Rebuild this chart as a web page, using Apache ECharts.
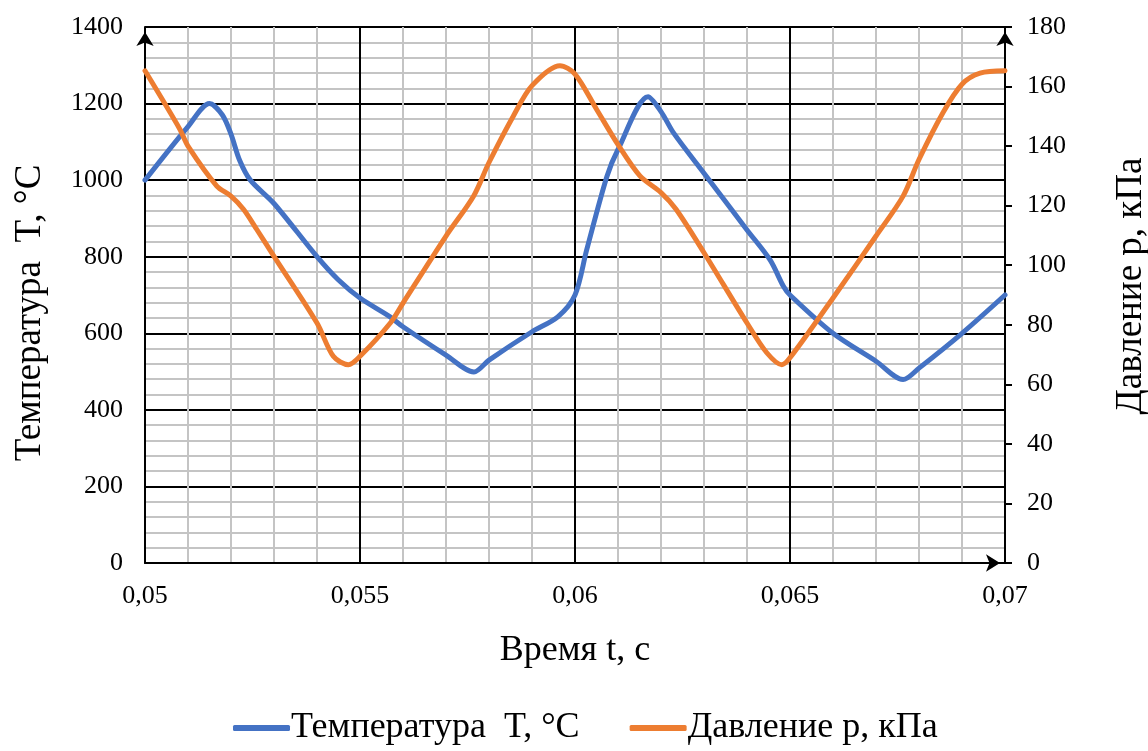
<!DOCTYPE html>
<html>
<head>
<meta charset="utf-8">
<script src="https://cdn.jsdelivr.net/npm/echarts@6/dist/echarts.min.js"></script>
<style>
html,body{margin:0;padding:0;background:#fff;}
#chart{width:1148px;height:751px;}
</style>
</head>
<body>
<div id="chart"></div>
<script>
// Temperature series (time s, T °C)
var tempTime = [0.0500,0.0510,0.0515,0.0518,0.0520,0.0522,0.05245,0.0530,0.0540,0.0545,0.0550,0.0557,0.0560,0.0570,0.05765,0.0580,0.0590,0.0596,0.0600,0.06027,0.06074,0.0610,0.0617,0.0620,0.0623,0.0630,0.0640,0.06454,0.06485,0.0650,0.0660,0.0670,0.06763,0.0680,0.0690,0.0700];
var tempValue = [1000,1140,1200,1170,1120,1052,1000,939,800,739,692,643,617,543,499,530,604,643,700,817,1009,1080,1218,1179,1122,1018,870,791,722,700,600,527,479,509,600,700];
// Pressure series (time s, p kPa)
var presTime = [0.0500,0.05081,0.0510,0.05167,0.0520,0.05229,0.0526,0.0530,0.0540,0.05438,0.05473,0.0550,0.0557,0.0560,0.0570,0.05764,0.0580,0.05857,0.0590,0.05965,0.0600,0.0605,0.0610,0.06151,0.0620,0.06235,0.0630,0.0640,0.06446,0.06481,0.0650,0.0660,0.0670,0.06763,0.0680,0.06856,0.0690,0.06942,0.0700];
var presValue = [165.3,145.7,140,126.6,123.2,118.8,112,103,80.6,69.4,66.6,69.4,80.5,87.3,109.8,123.2,134.5,150.2,160.3,167,164.2,152.4,140.5,130,124.4,118.8,104.2,80.6,70.6,66.6,68.9,89,109.8,123.2,135.5,151.3,160.8,164.5,165.3];

var seriesNames = ['Температура  T, °C', 'Давление р, кПа'];
var axisNames = {x: 'Время t, с', yLeft: 'Температура  T, °C', yRight: 'Давление р, кПа'};

function pairs(a, b){ return a.map(function(v,i){ return [v, b[i]]; }); }

var FONT = 'Liberation Serif';
var chart = echarts.init(document.getElementById('chart'), null, {renderer:'canvas'});
var arrowLine = {
  show: true,
  lineStyle: {color:'#000', width:2},
  symbol: ['none','arrow'],
  symbolSize: [13, 14],
  symbolOffset: [0, -5]
};
var plain = function(v){ return String(v); };
chart.setOption({
  animation: false,
  backgroundColor: '#fff',
  grid: {left:145, right:143, top:27, bottom:188, containLabel:false, outerBoundsMode:'none'},
  legend: {
    bottom: 0, left: 228,
    itemWidth: 57, itemHeight: 6, itemGap: 50,
    icon: 'roundRect',
    textStyle: {fontFamily: FONT, fontSize: 36, color:'#000', padding:[0,0,0,-4]},
    data: seriesNames
  },
  xAxis: {
    type: 'value', min: 0.05, max: 0.07, interval: 0.005,
    name: axisNames.x, nameLocation: 'middle', nameGap: 70,
    nameTextStyle: {fontFamily: FONT, fontSize: 36, color:'#000'},
    axisLine: arrowLine,
    axisTick: {show:false},
    minorTick: {show:false, splitNumber:5},
    axisLabel: {fontFamily: FONT, fontSize: 26, color:'#000', margin: 20,
      formatter: function(v){ return String(+v.toFixed(4)).replace('.', ','); }},
    splitLine: {show:true, lineStyle:{color:'#000', width:2}},
    minorSplitLine: {show:true, lineStyle:{color:'#c4c4c4', width:2}}
  },
  yAxis: [{
    type: 'value', min: 0, max: 1400, interval: 200, position: 'left',
    name: axisNames.yLeft, nameLocation: 'middle', nameGap: 96, nameRotate: 90,
    nameTextStyle: {fontFamily: FONT, fontSize: 37, color:'#000', padding:[0,36,0,0]},
    axisLine: arrowLine,
    axisTick: {show:false},
    minorTick: {show:false, splitNumber:5},
    axisLabel: {fontFamily: FONT, fontSize: 26, color:'#000', margin: 22, formatter: plain},
    splitLine: {show:true, lineStyle:{color:'#000', width:2}},
    minorSplitLine: {show:true, lineStyle:{color:'#c4c4c4', width:2}}
  },{
    type: 'value', min: 0, max: 180, interval: 20, position: 'right',
    name: axisNames.yRight, nameLocation: 'middle', nameGap: 108, nameRotate: 90,
    nameTextStyle: {fontFamily: FONT, fontSize: 37, color:'#000', padding:[0,0,0,18]},
    axisLine: arrowLine,
    axisTick: {show:true, inside:false, length:7, lineStyle:{color:'#000', width:2}},
    axisLabel: {fontFamily: FONT, fontSize: 26, color:'#000', margin: 22, formatter: plain},
    splitLine: {show:false}
  }],
  series: [{
    name: seriesNames[0], type: 'line', yAxisIndex: 0,
    data: pairs(tempTime, tempValue),
    smooth: 0.3, showSymbol: false, symbol: 'none',
    lineStyle: {color:'#4472C4', width:5, cap:'round', join:'round'},
    itemStyle: {color:'#4472C4'}
  },{
    name: seriesNames[1], type: 'line', yAxisIndex: 1,
    data: pairs(presTime, presValue),
    smooth: 0.3, showSymbol: false, symbol: 'none',
    lineStyle: {color:'#ED7D31', width:5, cap:'round', join:'round'},
    itemStyle: {color:'#ED7D31'}
  }]
});
</script>
</body>
</html>
